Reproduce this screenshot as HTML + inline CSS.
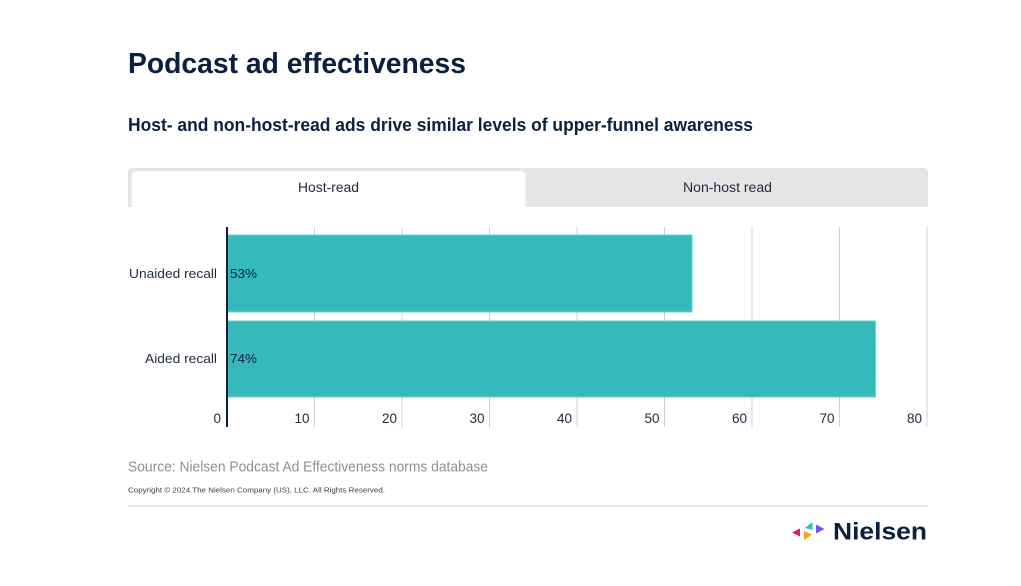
<!DOCTYPE html>
<html>
<head>
<meta charset="utf-8">
<style>
  html, body { margin: 0; padding: 0; background: #ffffff; }
  body { width: 1021px; height: 586px; overflow: hidden; }
  svg { display: block; font-family: "Liberation Sans", Arial, sans-serif; }
</style>
</head>
<body>
<svg width="1021" height="586" viewBox="0 0 1021 586" xmlns="http://www.w3.org/2000/svg">
  <rect x="0" y="0" width="1021" height="586" fill="#ffffff"/>

  <!-- Title -->
  <text x="128" y="73" font-size="29" font-weight="bold" fill="#0b1f3f" textLength="338" lengthAdjust="spacingAndGlyphs">Podcast ad effectiveness</text>
  <!-- Subtitle -->
  <text x="128" y="131" font-size="18" font-weight="bold" fill="#0b1f3f" textLength="625" lengthAdjust="spacingAndGlyphs">Host- and non-host-read ads drive similar levels of upper-funnel awareness</text>

  <!-- Tabs -->
  <path d="M128,207 L128,173 Q128,168 133,168 L923,168 Q928,168 928,173 L928,207 Z" fill="#e5e5e5"/>
  <path d="M131.5,207 L131.5,176 Q131.5,171 136.5,171 L520.5,171 Q525.5,171 525.5,176 L525.5,207 Z" fill="#ffffff"/>
  <text x="298" y="192" font-size="13.5" fill="#1f2a3c" textLength="61" lengthAdjust="spacingAndGlyphs">Host-read</text>
  <text x="683" y="192" font-size="13.5" fill="#1f2a3c" textLength="89" lengthAdjust="spacingAndGlyphs">Non-host read</text>

  <!-- Gridlines -->
  <g stroke="#ccd0d9" stroke-width="1">
    <line x1="314.5" y1="227" x2="314.5" y2="427"/>
    <line x1="402" y1="227" x2="402" y2="427"/>
    <line x1="489.5" y1="227" x2="489.5" y2="427"/>
    <line x1="577" y1="227" x2="577" y2="427"/>
    <line x1="664.5" y1="227" x2="664.5" y2="427"/>
    <line x1="752" y1="227" x2="752" y2="427"/>
    <line x1="839.5" y1="227" x2="839.5" y2="427"/>
    <line x1="927" y1="227" x2="927" y2="427"/>
  </g>

  <!-- Bars -->
  <rect x="227" y="235" width="465" height="77" fill="#35b9b9" stroke="#6fd0cc" stroke-width="1"/>
  <rect x="227" y="321" width="648.5" height="76" fill="#35b9b9" stroke="#6fd0cc" stroke-width="1"/>

  <!-- Axis -->
  <line x1="227" y1="227" x2="227" y2="427" stroke="#0b1f3f" stroke-width="2"/>

  <!-- Category labels -->
  <text x="217" y="278" font-size="13" fill="#1f2a3c" text-anchor="end" textLength="88" lengthAdjust="spacingAndGlyphs">Unaided recall</text>
  <text x="217" y="363" font-size="13" fill="#1f2a3c" text-anchor="end" textLength="72" lengthAdjust="spacingAndGlyphs">Aided recall</text>

  <!-- Value labels -->
  <text x="230" y="278" font-size="13" fill="#0b1f3f" textLength="27" lengthAdjust="spacingAndGlyphs">53%</text>
  <text x="230" y="363" font-size="13" fill="#0b1f3f" textLength="27" lengthAdjust="spacingAndGlyphs">74%</text>

  <!-- Tick labels -->
  <g font-size="13.5" fill="#1f2a3c" text-anchor="end">
    <text x="221" y="423">0</text>
    <text x="309.5" y="423">10</text>
    <text x="397" y="423">20</text>
    <text x="484.5" y="423">30</text>
    <text x="572" y="423">40</text>
    <text x="659.5" y="423">50</text>
    <text x="747" y="423">60</text>
    <text x="834.5" y="423">70</text>
    <text x="922" y="423">80</text>
  </g>

  <!-- Source -->
  <text x="128" y="471.5" font-size="14.5" fill="#8b8f97" textLength="360" lengthAdjust="spacingAndGlyphs">Source: Nielsen Podcast Ad Effectiveness norms database</text>
  <text x="128" y="492.5" font-size="7.5" fill="#3a3f4a" textLength="257" lengthAdjust="spacingAndGlyphs">Copyright © 2024 The Nielsen Company (US), LLC. All Rights Reserved.</text>

  <!-- Rule -->
  <rect x="128" y="505" width="800" height="2" fill="#e8e8ee"/>

  <!-- Logo -->
  <polygon points="792,532.5 800,528.5 800,536.5" fill="#e8175d"/>
  <polygon points="805,528 812.5,522 812.5,530" fill="#2ebfb5"/>
  <polygon points="816,524.5 816,533.5 824.5,529" fill="#7b4dff"/>
  <polygon points="804,531 812,534.5 804,540" fill="#ff9e1b"/>
  <text x="833" y="539.5" font-size="24" font-weight="bold" fill="#0b1f3f" textLength="94" lengthAdjust="spacingAndGlyphs">Nielsen</text>
</svg>
</body>
</html>
